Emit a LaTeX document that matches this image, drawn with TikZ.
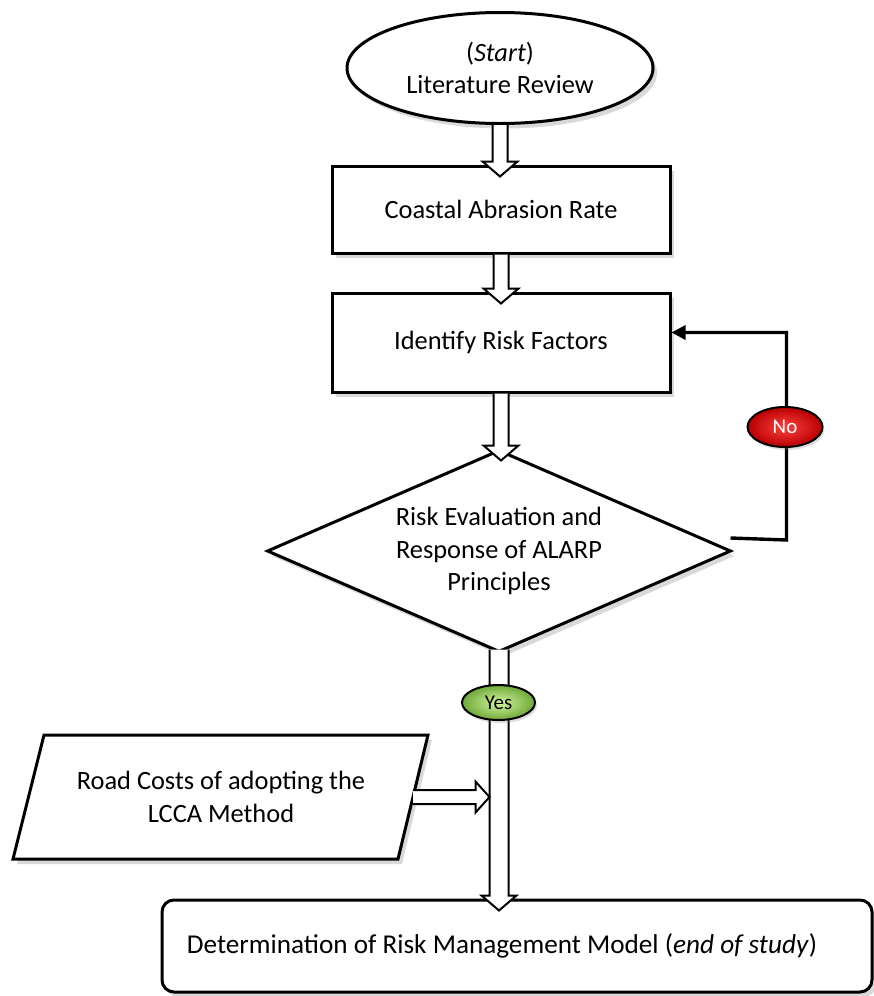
\documentclass[tikz,border=0pt]{standalone}
\usepackage{fontspec}
\setmainfont{Carlito}
\usetikzlibrary{arrows.meta,shapes.geometric,shadows,calc}
\definecolor{ink}{HTML}{000000}
\definecolor{yeslight}{HTML}{D2F5A0}
\definecolor{yesdark}{HTML}{6FA838}
\definecolor{nolight}{HTML}{FF4040}
\definecolor{nodark}{HTML}{B80000}

% hollow block arrows: start, target, half shaft width
\newcommand{\hollowdown}[3]{%
  \draw[hollow] ($(#1)+(-#3,0)$) -- ($(#1 |- #2)+(-#3,-3)$) -- ($(#1 |- #2)+(-17.5,-3)$)
    -- ($(#1 |- #2)+(0,12)$) -- ($(#1 |- #2)+(17.5,-3)$) -- ($(#1 |- #2)+(#3,-3)$)
    -- ($(#1)+(#3,0)$);}
\newcommand{\hollowright}[2]{%
  \draw[hollow] ($(#1)+(0,-7)$) -- ($(#1 -| #2)+(-14,-7)$) -- ($(#1 -| #2)+(-14,-15.5)$)
    -- (#1 -| #2) -- ($(#1 -| #2)+(-14,15.5)$) -- ($(#1 -| #2)+(-14,7)$)
    -- ($(#1)+(0,7)$);}

\begin{document}
\begin{tikzpicture}[x=0.5pt,y=-0.5pt,text=ink,font=\fontsize{13.2}{16.2}\selectfont,
  box/.style={draw=ink,line width=1.5pt,fill=white,align=center,inner sep=0pt,
    drop shadow={opacity=.3,shadow xshift=2pt,shadow yshift=-2.5pt}},
  hollow/.style={draw=ink,line width=1pt,fill=white,line join=miter},
  fbline/.style={draw=ink,line width=1.7pt,-{Triangle[length=7pt,width=7pt]}},
  tag/.style={ellipse,draw=ink,line width=1pt,inner sep=0pt,
    font=\fontsize{10.5}{12}\selectfont,
    drop shadow={opacity=.25,shadow xshift=1pt,shadow yshift=-1.5pt}}]
  \useasboundingbox (0,0) rectangle (873,996);

  \node[box,ellipse,minimum width=153pt,minimum height=55.5pt] (lit) at (500,68)
    {(\textit{Start})\\Literature Review};
  \node[box,minimum width=169pt,minimum height=43.5pt] (coast) at (501,209.5)
    {Coastal Abrasion Rate};
  \node[box,minimum width=169pt,minimum height=49.5pt] (ident) at (501,342.5)
    {Identify Risk Factors};
  \node[box,diamond,aspect=2.3,minimum width=232pt,minimum height=101pt] (risk) at (499,551)
    {Risk Evaluation and\\Response of ALARP\\Principles};
  % input parallelogram
  \draw[box] (44,735) -- (428,735) -- (398,859) -- (13,859) -- cycle;
  \node[align=center] (lcca) at (221,797) {Road Costs of adopting the\\LCCA Method};
  \coordinate (lcca-e) at (413,797);
  \node[box,rounded corners=6pt,minimum width=355pt,minimum height=46pt,
    font=\fontsize{13.6}{16.2}\selectfont] (final) at (517,946)
    {Determination of Risk Management Model (\textit{end of study})\hspace*{15pt}};

  \hollowdown{lit.south}{coast.north}{7.5}
  \hollowdown{coast.south}{ident.north}{7.5}
  \hollowdown{ident.south}{risk.north}{7.5}
  \coordinate (d0) at ($(risk.south)+(0,-4)$);
  \hollowdown{d0}{final.north}{9.5}
  \coordinate (merge) at (489.5,797);
  \hollowright{lcca-e}{merge}

  % loop back when the risk is not acceptable
  \coordinate (fb0) at ($(risk.east)+(-2,-13)$);
  \coordinate (fb1) at ($(risk.east)+(54,-11)$);
  \coordinate (fbin) at ($(ident.east)+(0,-10)$);
  \draw[fbline] (fb0) -- (fb1) |- (fbin);
  \node[tag,inner color=nolight,outer color=nodark,text=white,
    minimum width=37.5pt,minimum height=20pt] (no) at (785,427) {No};
  \node[tag,inner color=yeslight,outer color=yesdark,
    minimum width=36.5pt,minimum height=17.5pt] (yes) at (498.5,702.5) {Yes};
\end{tikzpicture}
\end{document}
